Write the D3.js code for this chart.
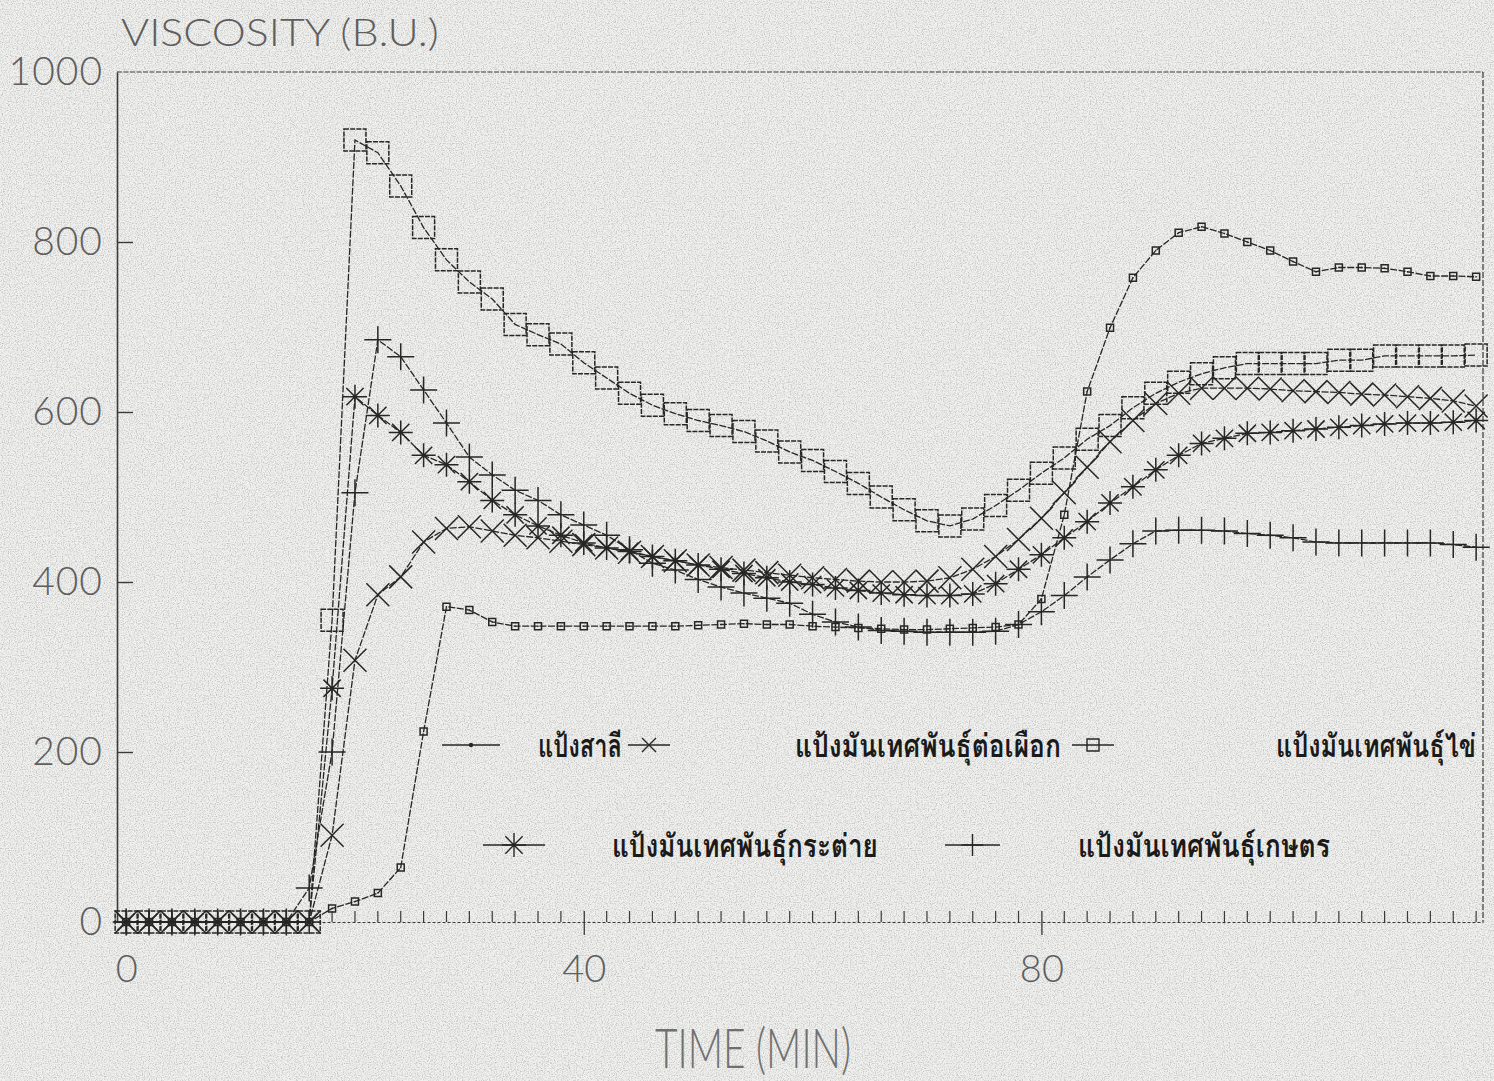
<!DOCTYPE html>
<html>
<head>
<meta charset="utf-8">
<script src="https://cdn.jsdelivr.net/npm/d3@7"></script>
<style>
  html, body { margin: 0; padding: 0; background: #ededeb; }
  svg { display: block; }
</style>
</head>
<body>
<svg id="chart" width="1494" height="1081"></svg>
<script>
// Sampling times (min), one reading every 2 minutes
const minutes = [0, 2, 4, 6, 8, 10, 12, 14, 16, 18, 20, 22, 24, 26, 28, 30, 32, 34, 36, 38,
  40, 42, 44, 46, 48, 50, 52, 54, 56, 58, 60, 62, 64, 66, 68, 70, 72, 74, 76, 78,
  80, 82, 84, 86, 88, 90, 92, 94, 96, 98, 100, 102, 104, 106, 108, 110, 112, 114, 116, 118];

// Brabender viscosity (B.U.) for each flour
const wheatFlour = [0, 0, 0, 0, 0, 0, 0, 0, 0, 16, 24, 34, 64, 224, 371, 367, 353, 348, 348, 348,
  348, 348, 348, 348, 348, 349, 350, 351, 350, 350, 348, 347, 346, 345, 344, 344, 345, 346, 347, 350,
  380, 479, 624, 699, 758, 790, 811, 818, 810, 800, 790, 777, 765, 770, 770, 769, 765, 760, 760, 759];

const sweetPotatoTorPhueak = [0, 0, 0, 0, 0, 0, 0, 0, 0, 102, 308, 385, 406, 447, 463, 465, 460, 455, 452, 448,
  444, 440, 435, 430, 425, 420, 417, 414, 411, 408, 405, 403, 401, 400, 400, 401, 405, 415, 430, 450,
  475, 505, 535, 565, 590, 610, 622, 628, 628, 628, 627, 625, 624, 623, 621, 620, 618, 616, 613, 607];

const sweetPotatoKhai = [0, 0, 0, 0, 0, 0, 0, 0, 0, 355, 920, 905, 866, 817, 779, 753, 733, 703, 691, 680,
  658, 640, 622, 608, 598, 590, 584, 577, 566, 553, 543, 530, 516, 500, 485, 472, 466, 474, 490, 508,
  528, 546, 568, 584, 605, 622, 635, 645, 652, 657, 657, 657, 657, 661, 661, 666, 666, 666, 666, 667];

const sweetPotatoKratai = [0, 0, 0, 0, 0, 0, 0, 0, 0, 275, 618, 596, 576, 549, 538, 518, 496, 479, 466, 455,
  446, 440, 436, 430, 425, 420, 415, 410, 405, 400, 397, 393, 390, 387, 385, 384, 384, 386, 398, 415,
  432, 452, 471, 493, 512, 532, 549, 563, 569, 575, 576, 578, 580, 582, 584, 586, 587, 587, 588, 590];

const sweetPotatoKaset = [0, 0, 0, 0, 0, 0, 0, 0, 40, 200, 505, 685, 665, 626, 587, 547, 526, 508, 496, 479,
  467, 455, 438, 422, 414, 403, 394, 387, 381, 375, 362, 353, 347, 343, 342, 341, 341, 341, 342, 350,
  365, 384, 406, 426, 445, 460, 461, 461, 460, 457, 455, 452, 447, 446, 446, 446, 446, 446, 444, 441];

// Legend names, in drawing order
const seriesNames = ["แป้งสาลี", "แป้งมันเทศพันธุ์ต่อเผือก", "แป้งมันเทศพันธุ์ไข่",
  "แป้งมันเทศพันธุ์กระต่าย", "แป้งมันเทศพันธุ์เกษตร"];

// Axis ticks
const yTicks = [0, 200, 400, 600, 800, 1000];
const xTicks = [0, 40, 80];
const xMinorTicks = [2, 4, 6, 8, 10, 12, 14, 16, 18, 20, 22, 24, 26, 28, 30, 32, 34, 36, 38,
  42, 44, 46, 48, 50, 52, 54, 56, 58, 60, 62, 64, 66, 68, 70, 72, 74, 76, 78,
  82, 84, 86, 88, 90, 92, 94, 96, 98, 100, 102, 104, 106, 108, 110, 112, 114, 116, 118];

const yTitle = "VISCOSITY (B.U.)";
const xTitle = "TIME (MIN)";

// ---------------------------------------------------------------------------
const svg = d3.select("#chart");
const ink = "#262626";
const axisInk = "#3a3a3a";
const labelInk = "#5e5e5e";
const latinFont = "Lato, 'Open Sans', sans-serif";

// squeeze a text element horizontally so that it spans the given width
function fitWidth(sel, x0, y0, width) {
  const natural = sel.node().getComputedTextLength();
  sel.attr("x", 0).attr("y", 0)
    .attr("transform", `translate(${x0},${y0}) scale(${width / natural},1)`);
}

// paper grain
const defs = svg.append("defs");
const grain = defs.append("filter").attr("id", "grain").attr("x", 0).attr("y", 0)
  .attr("width", "100%").attr("height", "100%");
grain.append("feTurbulence").attr("type", "fractalNoise").attr("baseFrequency", 0.85)
  .attr("numOctaves", 2).attr("seed", 7).attr("result", "n");
grain.append("feColorMatrix").attr("type", "matrix")
  .attr("values", "0 0 0 0 0.25  0 0 0 0 0.25  0 0 0 0 0.25  0 0 0 -2.2 1.25");
svg.append("rect").attr("width", 1494).attr("height", 1081).attr("fill", "#f0f0ee");
svg.append("rect").attr("width", 1494).attr("height", 1081).attr("filter", "url(#grain)")
  .attr("opacity", 0.5);

const x = d3.scaleLinear().domain([-0.8, 118.6]).range([117, 1483]);
const y = d3.scaleLinear().domain([0, 1000]).range([922, 72]);

// frame: top and right edges
svg.append("line").attr("x1", x.range()[0]).attr("x2", x.range()[1])
  .attr("y1", y(1000)).attr("y2", y(1000))
  .attr("stroke", axisInk).attr("stroke-width", 1.2).attr("stroke-dasharray", "5 1.5");
svg.append("line").attr("x1", x.range()[1]).attr("x2", x.range()[1])
  .attr("y1", y(1000)).attr("y2", y(0))
  .attr("stroke", axisInk).attr("stroke-width", 1.2).attr("stroke-dasharray", "6 2");

// y axis
const yAxis = d3.axisLeft(y).tickValues(yTicks).tickSizeInner(-16).tickSizeOuter(0).tickPadding(14)
  .tickFormat(d3.format("d"));
const gy = svg.append("g").attr("transform", `translate(${x.range()[0]},0)`).call(yAxis);
gy.select(".domain").attr("stroke", axisInk).attr("stroke-width", 1.6);
gy.selectAll(".tick line").attr("stroke", axisInk).attr("stroke-width", 1.4)
  .filter(d => d === 0 || d === 1000).remove();
gy.selectAll(".tick text").attr("fill", labelInk)
  .style("font-family", latinFont).style("font-weight", 300)
  .style("font-size", "39px").style("letter-spacing", "1px");

// x axis: dotted baseline, major ticks below, minor ticks above
const xAxis = d3.axisBottom(x).tickValues(xTicks).tickSizeInner(13).tickSizeOuter(0).tickPadding(20)
  .tickFormat(d3.format("d"));
const gx = svg.append("g").attr("transform", `translate(0,${y(0)})`).call(xAxis);
gx.select(".domain").attr("stroke", axisInk).attr("stroke-width", 1.2).attr("stroke-dasharray", "3 2");
gx.selectAll(".tick line").attr("stroke", axisInk).attr("stroke-width", 1.3).attr("y1", -11);
gx.selectAll(".tick text").attr("fill", labelInk)
  .style("font-family", latinFont).style("font-weight", 300)
  .style("font-size", "38px");

svg.append("g").selectAll("line").data(xMinorTicks).join("line")
  .attr("x1", d => x(d)).attr("x2", d => x(d))
  .attr("y1", y(0)).attr("y2", y(0) - 11)
  .attr("stroke", axisInk).attr("stroke-width", 1.2);

// axis titles
const yt = svg.append("text").text(yTitle)
  .attr("fill", labelInk).style("font-family", latinFont)
  .style("font-weight", 300).style("font-size", "38px");
fitWidth(yt, 121, 46, 318);
const xt = svg.append("text").text(xTitle)
  .attr("fill", "#707070").style("font-family", latinFont)
  .style("font-weight", 300).style("font-size", "56px");
fitWidth(xt, 655, 1068, 196);

// marker shapes
const shapes = {
  dot: s => `M${-s},${-s}h${2 * s}v${2 * s}h${-2 * s}Z M-0.6,0h1.2`,
  cross: s => `M${-s},${-s}L${s},${s}M${-s},${s}L${s},${-s}`,
  square: s => `M${-s},${-s}h${2 * s}v${2 * s}h${-2 * s}Z`,
  star: s => `M${-s},0H${s}M0,${-s}V${s}M${-s * 0.72},${-s * 0.72}L${s * 0.72},${s * 0.72}M${-s * 0.72},${s * 0.72}L${s * 0.72},${-s * 0.72}`,
  plus: s => `M${-s},0H${s}M0,${-s}V${s}`
};

const series = [
  { name: seriesNames[0], values: wheatFlour, shape: "dot", size: 3.5 },
  { name: seriesNames[1], values: sweetPotatoTorPhueak, shape: "cross", size: 11.5 },
  { name: seriesNames[2], values: sweetPotatoKhai, shape: "square", size: 11 },
  { name: seriesNames[3], values: sweetPotatoKratai, shape: "star", size: 12 },
  { name: seriesNames[4], values: sweetPotatoKaset, shape: "plus", size: 13.5 }
];

const line = d3.line().x(d => x(d[0])).y(d => y(d[1]));

const plot = svg.append("g");
series.forEach(s => {
  const pts = minutes.map((m, i) => [m, s.values[i]]);
  plot.append("path").attr("d", line(pts)).attr("fill", "none")
    .attr("stroke", ink).attr("stroke-width", 1.3).attr("stroke-dasharray", "7 1.6");
  plot.append("g").selectAll("path").data(pts).join("path")
    .attr("transform", d => `translate(${x(d[0])},${y(d[1])})`)
    .attr("d", shapes[s.shape](s.size))
    .attr("fill", "none").attr("stroke", ink).attr("stroke-width", 1.5)
    .attr("stroke-dasharray", s.shape === "square" ? "5 1.2" : null);
});

// legend: sample line with marker, then the flour name
const thaiFont = "'Tlwg Typist', 'TlwgTypewriter', 'Loma', 'Garuda', 'Noto Sans Thai', 'DejaVu Sans', sans-serif";
const legendRows = [
  { idx: 0, x1: 442, x2: 500, tx: 538, tw: 84, ty: 745, ms: 2.2, legendShape: "pt" },
  { idx: 1, x1: 628, x2: 670, tx: 795, tw: 266, ty: 745, ms: 7 },
  { idx: 2, x1: 1072, x2: 1114, tx: 1276, tw: 200, ty: 745, ms: 6 },
  { idx: 3, x1: 483, x2: 545, tx: 612, tw: 266, ty: 845, ms: 12 },
  { idx: 4, x1: 945, x2: 1000, tx: 1078, tw: 252, ty: 845, ms: 11 }
];
const lg = svg.append("g");
legendRows.forEach(r => {
  const s = series[r.idx];
  lg.append("line").attr("x1", r.x1).attr("x2", r.x2).attr("y1", r.ty).attr("y2", r.ty)
    .attr("stroke", ink).attr("stroke-width", 1.4);
  if (r.legendShape === "pt") {
    lg.append("circle").attr("cx", (r.x1 + r.x2) / 2).attr("cy", r.ty).attr("r", r.ms).attr("fill", ink);
  } else {
    lg.append("path").attr("transform", `translate(${(r.x1 + r.x2) / 2},${r.ty})`)
      .attr("d", shapes[s.shape](r.ms)).attr("fill", "none").attr("stroke", ink).attr("stroke-width", 1.4);
  }
  const t = lg.append("text").text(s.name)
    .attr("fill", "#1a1a1a").style("font-family", thaiFont).style("font-size", "32px")
    .style("font-weight", 600);
  fitWidth(t, r.tx, r.ty + 12, r.tw);
});
</script>
</body>
</html>
